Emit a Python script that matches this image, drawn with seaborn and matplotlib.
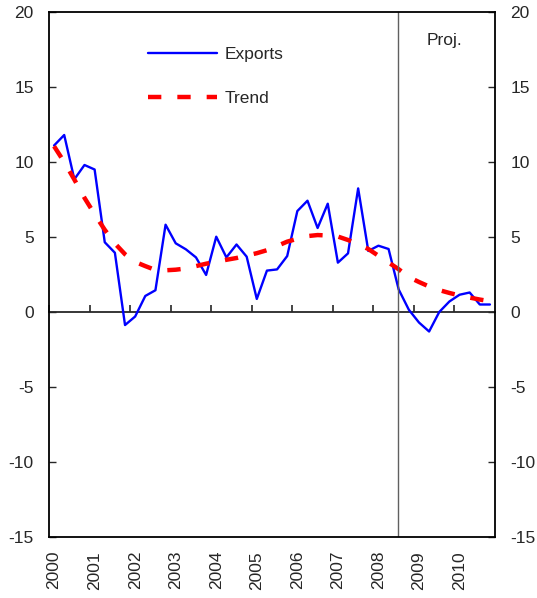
import numpy as np
import pandas as pd
import matplotlib
matplotlib.use('Agg')
import matplotlib.pyplot as plt
import seaborn as sns


# Datos (trimestral 2000Q1 - 2010Q4)
years = list(range(2000, 2011))
quarters = [1, 2, 3, 4]

exports = [11.1, 11.8, 8.85, 9.8, 9.5, 4.65, 3.95, -0.87,
           -0.3, 1.07, 1.45, 5.82, 4.58, 4.18, 3.64, 2.47,
           5.02, 3.64, 4.5, 3.69, 0.87, 2.76, 2.84, 3.73,
           6.73, 7.42, 5.6, 7.22, 3.29, 3.91, 8.24, 4.07,
           4.42, 4.2, 1.5, 0.15, -0.7, -1.3, 0.0, 0.7,
           1.15, 1.3, 0.5, 0.5]

trend = [11.05, 10.0, 8.83, 7.61, 6.52, 5.48, 4.57, 3.85,
         3.34, 3.06, 2.8, 2.78, 2.82, 2.9, 3.06, 3.22,
         3.35, 3.48, 3.6, 3.76, 3.92, 4.12, 4.4, 4.69,
         4.88, 5.06, 5.13, 5.1, 5.03, 4.8, 4.52, 4.2,
         3.75, 3.3, 2.85, 2.33, 2.0, 1.7, 1.46, 1.27,
         1.1, 0.96, 0.83, 0.72]

proj_start = 2008.6
y_ticks = [-15, -10, -5, 0, 5, 10, 15, 20]


# Armar dataframe
yr = np.repeat(years, 4)
qt = np.tile(quarters, len(years))
data = pd.DataFrame({'t': yr + (qt - 0.5) / 4,
                     'Exports': exports,
                     'Trend': trend})


# Gráfico
sns.set_style('white')
plt.rcParams['font.family'] = ['Liberation Sans', 'DejaVu Sans']
plt.rcParams['axes.unicode_minus'] = False
fs = 12.5

fig = plt.figure(figsize=(5.37, 5.98), dpi=100)
ax = fig.add_axes([49 / 537, 1 - 537 / 598, 446 / 537, 525 / 598])

sns.lineplot(x='t', y='Exports', data=data, ax=ax, color='#0000FF',
             lw=1.7, label='Exports')
sns.lineplot(x='t', y='Trend', data=data, ax=ax, color='#FF0000',
             lw=3.2, label='Trend')
ax.lines[1].set_linestyle((0, (3.0, 3.6)))
ax.lines[1].set_dash_capstyle('butt')

ax.axvline(proj_start, color='#606060', lw=1)
ax.text(2009.75, 18.1, 'Proj.', ha='center', va='center', fontsize=fs)

ax.set_xlim(years[0], years[-1] + 1)
ax.set_ylim(-15, 20)
ax.set_xlabel('')
ax.set_ylabel('')

# eje y a ambos lados
ax.set_yticks(y_ticks)
ax.tick_params(axis='y', direction='in', length=5, width=1,
               left=True, right=True, labelleft=True, labelright=True,
               labelsize=fs, pad=11)

# etiquetas de año abajo, sin marcas
ax.set_xticks([y + 0.125 for y in years])
ax.set_xticklabels([str(y) for y in years], rotation=90)
ax.tick_params(axis='x', length=0, labelsize=fs, pad=10)

# línea del cero con marcas por año
zero = ax.secondary_xaxis(15 / 35)
zero.set_xticks(years)
zero.set_xticklabels([])
zero.tick_params(axis='x', direction='in', length=5, width=1.2)
zero.spines['bottom'].set_linewidth(1.3)

for s in ax.spines.values():
    s.set_linewidth(1.3)
    s.set_color('black')

ax.legend(loc='upper left', bbox_to_anchor=(0.222, 0.933), frameon=False,
          borderpad=0, borderaxespad=0, handlelength=4.0,
          handletextpad=0.4, labelspacing=1.67, fontsize=fs)

fig.savefig('out.png', dpi=100)
